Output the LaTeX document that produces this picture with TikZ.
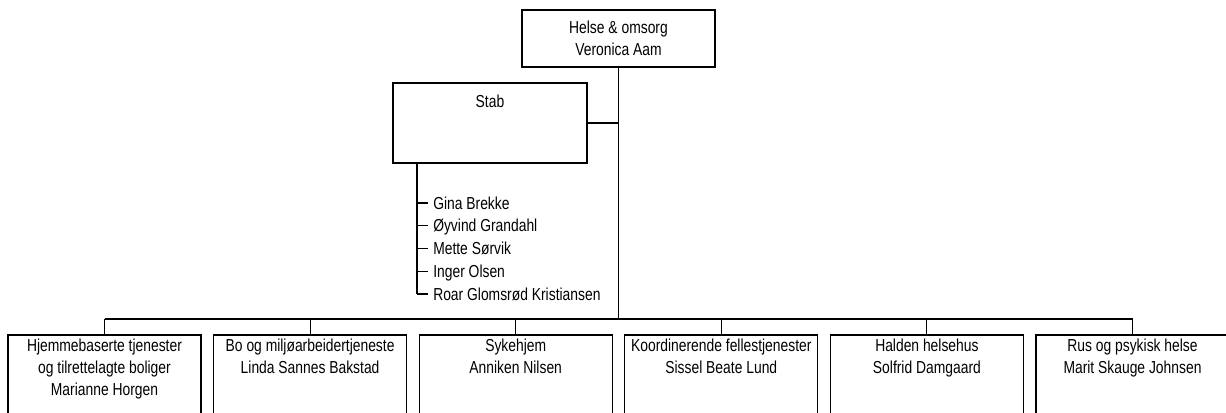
\documentclass[tikz,border=0pt]{standalone}
\usepackage{fontspec}
\setmainfont{Liberation Sans}[FakeStretch=0.8]
\newcommand\orgfont{\fontsize{13}{16.6}\selectfont}
\begin{document}
\begin{tikzpicture}[x=0.75pt,y=-0.75pt,
  box/.style={draw=black, line width=0.8pt, inner sep=0pt},
  lbl/.style={align=center, inner sep=0pt, font=\orgfont, anchor=north},
  conn/.style={draw=black, line width=0.8pt},
  staff/.style={anchor=west, inner xsep=3.75pt, inner ysep=0pt, text height=9.3pt, text depth=0pt, font=\orgfont}]
\clip (0,0) rectangle (1226,412);
\fill[white] (0,0) rectangle (1226,412);
% top
\node[box, minimum width=144.75pt, minimum height=42.75pt] (top) at (618.5,38.5) {};
\node[lbl] (topt) at (618.5,21) {Helse \& omsorg\\Veronica Aam};
% stab
\node[box, minimum width=145.5pt, minimum height=60pt] (stab) at (490,123) {};
\node[lbl] (stabt) at (490,95) {Stab};
\coordinate (sv) at (417,163);
\foreach \n [count=\i] in {Gina Brekke, Øyvind Grandahl, Mette Sørvik, Inger Olsen, Roar Glomsrød Kristiansen}
  \node[staff] (s\i) at (428,{203+22.75*(\i-1)}) {\n};
\draw[conn] (sv) -- (sv |- s5.west);
\foreach \i in {1,...,5} \draw[conn] (sv |- s\i.west) -- (s\i.west);
% bottom boxes
\foreach \t [count=\i] in {{Hjemmebaserte tjenester\\og tilrettelagte boliger\\Marianne Horgen},
  {Bo og miljøarbeidertjeneste\\Linda Sannes Bakstad},
  {Sykehjem\\Anniken Nilsen},
  {Koordinerende fellestjenester\\Sissel Beate Lund},
  {Halden helsehus\\Solfrid Damgaard},
  {Rus og psykisk helse\\Marit Skauge Johnsen}} {
  \node[box, minimum width=144.75pt, minimum height=78.75pt] (b\i) at ({104.5+205.6*(\i-1)},387.5) {};
  \node[lbl] (t\i) at ({104.5+205.6*(\i-1)},338.5) {\t};
}
\coordinate (bus) at (0,319);
% connectors
\draw[conn] (top.south) -- (top.south |- bus);
\draw[conn] (stab.east) -- (stab.east -| top.south);
\draw[conn] (b1.north |- bus) -- (b6.north |- bus);
\foreach \i in {1,...,6} \draw[conn] (b\i.north) -- (b\i.north |- bus);
\end{tikzpicture}
\end{document}
